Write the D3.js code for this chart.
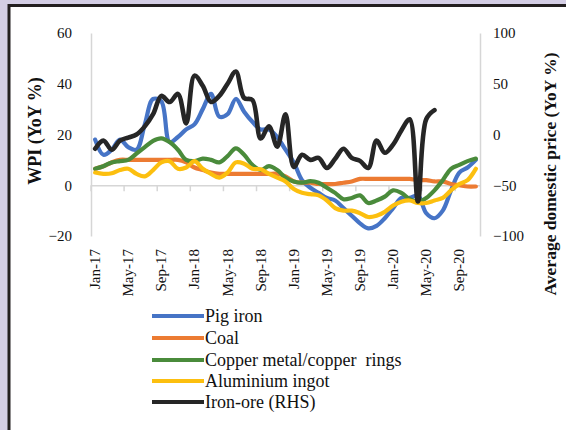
<!DOCTYPE html>
<html><head><meta charset="utf-8">
<script src="https://cdn.jsdelivr.net/npm/d3@7"></script>
<style>
html,body{margin:0;padding:0;background:#d4cee5;}
svg{display:block;}
text{font-family:"Liberation Serif","Times New Roman",serif;fill:#111;}
</style></head>
<body><svg id="chart" width="566" height="430"></svg>
<script>
const categories = ["Jan-17","Feb-17","Mar-17","Apr-17","May-17","Jun-17","Jul-17","Aug-17","Sep-17","Oct-17","Nov-17","Dec-17",
"Jan-18","Feb-18","Mar-18","Apr-18","May-18","Jun-18","Jul-18","Aug-18","Sep-18","Oct-18","Nov-18","Dec-18",
"Jan-19","Feb-19","Mar-19","Apr-19","May-19","Jun-19","Jul-19","Aug-19","Sep-19","Oct-19","Nov-19","Dec-19",
"Jan-20","Feb-20","Mar-20","Apr-20","May-20","Jun-20","Jul-20","Aug-20","Sep-20","Oct-20","Nov-20"];
const tickLabels = ["Jan-17","May-17","Sep-17","Jan-18","May-18","Sep-18","Jan-19","May-19","Sep-19","Jan-20","May-20","Sep-20"];
const leftTicks = [60,40,20,0,-20];
const rightTicks = [100,50,0,-50,-100];

const pigIron = [18,12,14,18,15,14,24,34,33,17,19,22,24,30,36,27,28,34,29,25,22,22,19,14,9,2,-1,-3,-5,-6,-9,-12,-15,-17,-16,-13,-9,-5,-5,-4,-11,-13,-10,-2,5,7,10];
const coal = [6.5,7.5,9,10,10,10,10,10,10,10,10,9,7,6,5,4.5,4.5,4.5,4.5,4.5,4.5,4.5,4.5,3.5,1.5,1,1,0.5,0.5,0.5,1,1.5,2.5,2.5,2.5,2.5,2.5,2.5,2.5,2,2,1.5,1.5,0.5,0,-0.5,-0.5];
const copper = [6.5,7.5,9,9.5,10,12.5,15,17.5,18.5,17,14,10,9.5,10.5,10,9,11.5,14.5,12,8,6,7.5,6,3,1.5,1,1.6,1,-1,-3,-5.5,-5,-4,-7,-6,-4.5,-2,-3,-5.5,-6.5,-5,-2,2,6.5,8,9.5,10.5];
const aluminium = [5,4.5,4.7,6,6.5,4.5,3.5,6,9,9.5,6.5,7,9.5,6.5,4.5,3,5,9,8.5,6.5,6.3,4.5,3,1.5,-1.5,-3,-3.5,-4,-6,-9,-10,-10,-11,-12.5,-12,-10.5,-8,-6.5,-6,-7,-7,-6,-5,-2,0.5,2,6.5];
const ironOre = [-14,-6,-15,-6,-3,0,8,20,38,32,40,11,58,48,32,38,50,62,36,34,-4,8,-12,20,-32,-20,-25,-23,-33,-24,-14,-23,-26,-33,-6,-18,-10,4,15,-66,15,24];

const seriesNames = ["Pig iron","Coal","Copper metal/copper  rings","Aluminium ingot","Iron-ore (RHS)"];
const seriesColors = ["#4674c6","#ec7b32","#4a8b3b","#fcbf0f","#262626"];

const svg = d3.select("#chart");
// panel
svg.append("rect").attr("x",9).attr("y",5.5).attr("width",600).attr("height",500)
  .attr("fill","#ffffff").attr("stroke","#231f20").attr("stroke-width",3);

const x = d3.scaleBand().domain(categories).range([91,480]).paddingInner(0).paddingOuter(0);
const xc = d => x(d) + x.bandwidth()/2;
const yL = d3.scaleLinear().domain([-20,60]).range([236,33]);
const yR = d3.scaleLinear().domain([-100,100]).range([236,33]);

const axisColor = "#d6d6d6";
// left axis
const gL = svg.append("g").attr("transform","translate(91,0)")
  .call(d3.axisLeft(yL).tickValues(leftTicks).tickSize(0).tickPadding(19).tickFormat(d3.format("d")));
gL.select(".domain").attr("stroke",axisColor).attr("stroke-width",1.5);
gL.selectAll("text").attr("font-size",15).attr("fill","#111").style("font-family",'"Liberation Serif",serif');

// right axis
const gR = svg.append("g").attr("transform","translate(480,0)")
  .call(d3.axisRight(yR).tickValues(rightTicks).tickSize(0).tickPadding(13).tickFormat(d3.format("d")));
gR.select(".domain").attr("stroke",axisColor).attr("stroke-width",1.5);
gR.selectAll("text").attr("font-size",15).attr("fill","#111").style("font-family",'"Liberation Serif",serif');

// x axis at zero
const y0 = yL(0);
const gX = svg.append("g").attr("transform",`translate(0,${y0})`)
  .call(d3.axisBottom(x).tickValues(tickLabels).tickSize(0).tickPadding(0));
gX.select(".domain").attr("stroke",axisColor).attr("stroke-width",1.5);
gX.selectAll(".tick text").remove();
// tick marks at category boundaries every 4
const boundaryCats = categories.filter((c,i)=> i%4===0);
svg.append("g").selectAll("line").data(boundaryCats).join("line")
  .attr("x1",d=>x(d)).attr("x2",d=>x(d)).attr("y1",y0).attr("y2",y0+6)
  .attr("stroke",axisColor).attr("stroke-width",1.5);
// x labels at the bottom, rotated
svg.append("g").selectAll("text").data(tickLabels).join("text")
  .attr("transform",d=>`translate(${xc(d)+5},249) rotate(-90)`)
  .attr("text-anchor","end").attr("font-size",15).text(d=>d);

// lines
const lineL = d3.line().x((d,i)=>xc(categories[i])).y(d=>yL(d)).curve(d3.curveCatmullRom.alpha(0.5));
const lineR = d3.line().x((d,i)=>xc(categories[i])).y(d=>yR(d)).curve(d3.curveCatmullRom.alpha(0.5));
const leftSeries = [pigIron,coal,copper,aluminium];
leftSeries.forEach((s,k)=>{
  svg.append("path").datum(s).attr("d",lineL).attr("fill","none")
    .attr("stroke",seriesColors[k]).attr("stroke-width",4.2).attr("stroke-linejoin","round").attr("stroke-linecap","round");
});
svg.append("path").datum(ironOre).attr("d",lineR).attr("fill","none")
  .attr("stroke",seriesColors[4]).attr("stroke-width",4.6).attr("stroke-linejoin","round").attr("stroke-linecap","round");

// axis titles
svg.append("text").attr("transform","translate(41,131) rotate(-90)")
  .attr("text-anchor","middle").attr("font-size",18).attr("font-weight","bold").text("WPI (YoY %)");
svg.append("text").attr("transform","translate(556,174) rotate(-90)")
  .attr("text-anchor","middle").attr("font-size",17.5).attr("font-weight","bold").text("Average domestic price (YoY %)");

// legend
const legY = [316,338,360,381,402];
const leg = svg.append("g");
seriesNames.forEach((n,k)=>{
  leg.append("line").attr("x1",152).attr("x2",204).attr("y1",legY[k]).attr("y2",legY[k])
    .attr("stroke",seriesColors[k]).attr("stroke-width",4);
  leg.append("text").attr("x",205).attr("y",legY[k]+6).attr("font-size",18)
    .style("white-space","pre").text(n);
});
</script></body></html>
